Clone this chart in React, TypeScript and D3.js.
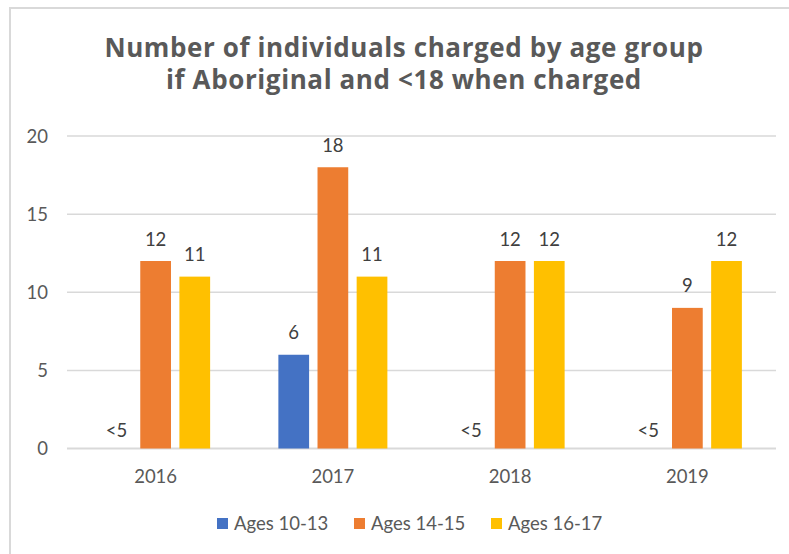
import * as d3 from 'd3';
import { useRef, useEffect } from 'react';

const years: string[] = ['2016', '2017', '2018', '2019'];
const seriesNames: string[] = ['Ages 10-13', 'Ages 14-15', 'Ages 16-17'];
// null = suppressed count, shown as "<5"
const ages10to13: (number | null)[] = [null, 6, null, null];
const ages14to15: (number | null)[] = [12, 18, 12, 9];
const ages16to17: (number | null)[] = [11, 11, 12, 12];
const seriesColors: string[] = ['#4472C4', '#ED7D31', '#FFC000'];
const yTicks: number[] = [0, 5, 10, 15, 20];
const titleLines: string[] = ['Number of individuals charged by age group', 'if Aboriginal and <18 when charged'];
const suppressedLabel = '<5';

const FONT = 'Lato, "Open Sans", sans-serif';
const TITLE_FONT = '"Open Sans", Lato, sans-serif';

const App = () => {
    const ref = useRef<SVGSVGElement>(null);

    useEffect(() => {
        if (!ref.current) return;
        const svg = d3.select(ref.current);
        svg.selectAll('*').remove();

        const W = 789, H = 554;
        const left = 67, right = 776, top = 136, bottom = 448.5;

        // chart frame
        svg.append('rect')
            .attr('x', 10).attr('y', 8)
            .attr('width', W + 20).attr('height', H + 20)
            .attr('fill', '#fff')
            .attr('stroke', '#d9d9d9')
            .attr('stroke-width', 2);

        svg.append('g')
            .selectAll('text')
            .data(titleLines)
            .enter().append('text')
            .attr('x', 404)
            .attr('y', (d, i) => 57 + i * 31.7)
            .attr('text-anchor', 'middle')
            .attr('font-family', TITLE_FONT)
            .attr('font-weight', 700)
            .attr('font-size', 26)
            .attr('letter-spacing', 0.6)
            .attr('fill', '#595959')
            .text(d => d);

        const yScale = d3.scaleLinear().domain([0, 20]).range([bottom, top]);
        const x0 = d3.scaleBand<string>().domain(years).range([left, right]).paddingInner(0.385).paddingOuter(0.1925);
        const x1 = d3.scaleBand<string>().domain(seriesNames).range([0, x0.bandwidth()]).paddingInner(0.215);

        // gridlines
        svg.append('g')
            .selectAll('line')
            .data(yTicks)
            .enter().append('line')
            .attr('x1', left).attr('x2', right)
            .attr('y1', d => yScale(d)).attr('y2', d => yScale(d))
            .attr('stroke', '#d9d9d9')
            .attr('stroke-width', d => d === 0 ? 1.8 : 1.5);

        svg.append('g')
            .selectAll('text')
            .data(yTicks)
            .enter().append('text')
            .attr('x', 48)
            .attr('y', d => yScale(d) + 6.5)
            .attr('text-anchor', 'end')
            .attr('font-family', FONT)
            .attr('font-size', 18.5)
            .attr('fill', '#595959')
            .text(d => d);

        svg.append('g')
            .selectAll('text')
            .data(years)
            .enter().append('text')
            .attr('x', d => x0(d)! + x0.bandwidth() / 2)
            .attr('y', 483)
            .attr('text-anchor', 'middle')
            .attr('font-family', FONT)
            .attr('font-size', 18.5)
            .attr('fill', '#595959')
            .text(d => d);

        const allSeries = [ages10to13, ages14to15, ages16to17];
        const cells = years.flatMap((year, i) =>
            allSeries.map((vals, s) => ({ year, name: seriesNames[s], color: seriesColors[s], value: vals[i] })));

        const bars = svg.append('g');
        bars.selectAll('rect')
            .data(cells.filter(c => c.value !== null))
            .enter().append('rect')
            .attr('x', d => x0(d.year)! + x1(d.name)!)
            .attr('y', d => yScale(d.value!))
            .attr('width', x1.bandwidth())
            .attr('height', d => bottom - yScale(d.value!))
            .attr('fill', d => d.color);

        bars.selectAll('text')
            .data(cells)
            .enter().append('text')
            .attr('x', d => x0(d.year)! + x1(d.name)! + x1.bandwidth() / 2)
            .attr('y', d => d.value === null ? yScale(0) - 11.5 : yScale(d.value) - 15.5)
            .attr('text-anchor', 'middle')
            .attr('font-family', FONT)
            .attr('font-size', 18.5)
            .attr('fill', '#404040')
            .text(d => d.value === null ? suppressedLabel : d.value);

        // legend
        const legend = svg.append('g').selectAll('g')
            .data(seriesNames)
            .enter().append('g')
            .attr('transform', (d, i) => 'translate(' + (217 + i * 137) + ',518)');
        legend.append('rect')
            .attr('width', 11).attr('height', 11)
            .attr('fill', (d, i) => seriesColors[i]);
        legend.append('text')
            .attr('x', 17)
            .attr('y', 12)
            .attr('font-family', FONT)
            .attr('font-size', 18.5)
            .attr('fill', '#595959')
            .text(d => d);
    }, []);

    return (<svg ref={ref} width={789} height={554} style={{ position: 'absolute', left: 0, top: 0 }}></svg>);
};

export default App;
